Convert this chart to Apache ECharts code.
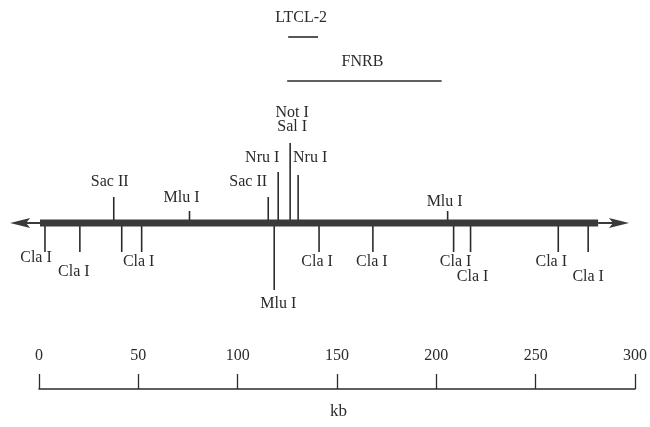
<!DOCTYPE html>
<html>
<head>
<meta charset="utf-8">
<script src="https://cdn.jsdelivr.net/npm/echarts@6/dist/echarts.min.js"></script>
<style>
  html, body { margin: 0; padding: 0; background: #fff; }
  #chart { width: 650px; height: 427px; }
</style>
</head>
<body>
<div id="chart"></div>
<script>
// ---- data (kb) ----
var mapSpan = [0.5, 280.5];
var arrowTips = [-14.5, 296];

var siteNames = ['Cla I', 'Cla I', 'Sac II', 'Cla I', 'Cla I', 'Mlu I', 'Sac II', 'Mlu I', 'Nru I',
  'Not I\nSal I', 'Nru I', 'Cla I', 'Cla I', 'Mlu I', 'Cla I', 'Cla I', 'Cla I', 'Cla I'];
var sitePos = [3, 20.5, 37.5, 41.5, 51.5, 75.5, 115, 118, 120, 126, 130, 140.5, 167.5, 205, 208, 216.5, 260.5, 275.5];

var cloneNames = ['LTCL-2', 'FNRB'];
var cloneStart = [125, 124.5];
var cloneEnd = [140, 202];

var scaleTicks = [0, 50, 100, 150, 200, 250, 300];

// ---- drawing ----
var ink = '#2b2b2b';
var font = '16px "Liberation Serif", "DejaVu Serif", serif';

// tick length (px, negative = above), label offset dx, dy, label shown
var siteLayout = [
  [29, -9, 35, 1], [29, -6, 49, 1], [-26, -4, -41, 1], [29, 0, 0, 0], [29, -3, 39, 1],
  [-12, -8, -25, 1], [-26, -20, -41, 1], [67, 4, 81, 1], [-51, -16, -65, 1],
  [-80, 2, -103, 1], [-48, 12, -65, 1], [29, -2, 39, 1], [29, -1, 39, 1],
  [-12, -3, -21, 1], [29, 2, 39, 1], [29, 2, 54, 1], [29, -7, 39, 1], [29, 0, 54, 1]
];
var cloneLayout = [-186, -142]; // bar offset from map line, px

var chart = echarts.init(document.getElementById('chart'), null, {renderer: 'canvas'});

var option = {
  backgroundColor: '#fff',
  animation: false,
  title: {
    text: 'kb',
    left: 325,
    top: 398,
    textStyle: {fontFamily: '"Liberation Serif", serif', fontSize: 17, fontWeight: 'normal', color: ink}
  },
  grid: [
    {left: 39, right: 13, top: 123, height: 200},
    {left: 39, right: 13, top: 388, height: 1}
  ],
  xAxis: [
    {gridIndex: 0, type: 'value', min: 0, max: 300, show: false},
    {
      gridIndex: 1, type: 'value', min: 0, max: 300, interval: 50, position: 'top',
      axisLine: {show: true, lineStyle: {color: ink, width: 1.5}},
      axisTick: {show: true, length: 15, lineStyle: {color: ink, width: 1.3}},
      axisLabel: {margin: 24, fontFamily: '"Liberation Serif", serif', fontSize: 16, color: ink,
        customValues: scaleTicks},
      splitLine: {show: false}
    }
  ],
  yAxis: [
    {gridIndex: 0, type: 'value', min: -1, max: 1, show: false},
    {gridIndex: 1, type: 'value', min: 0, max: 1, show: false}
  ],
  series: [
    {
      // restriction sites
      type: 'custom',
      xAxisIndex: 0, yAxisIndex: 0,
      data: sitePos.map(function (p, i) { return [p, i]; }),
      renderItem: function (params, api) {
        var i = api.value(1);
        var pt = api.coord([api.value(0), 0]);
        var lay = siteLayout[i];
        var children = [{
          type: 'line',
          shape: {x1: pt[0], y1: pt[1], x2: pt[0], y2: pt[1] + lay[0]},
          style: {stroke: ink, lineWidth: 1.6}
        }];
        if (lay[3]) {
          children.push({
            type: 'text',
            style: {
              text: siteNames[i], x: pt[0] + lay[1], y: pt[1] + lay[2],
              align: 'center', verticalAlign: 'middle', font: font, fill: ink, lineHeight: 14
            }
          });
        }
        return {type: 'group', children: children};
      }
    },
    {
      // chromosome line with arrows
      type: 'custom',
      xAxisIndex: 0, yAxisIndex: 0,
      data: [[mapSpan[0], mapSpan[1], arrowTips[0], arrowTips[1]]],
      renderItem: function (params, api) {
        var a = api.coord([api.value(0), 0]);
        var b = api.coord([api.value(1), 0]);
        var l = api.coord([api.value(2), 0]);
        var r = api.coord([api.value(3), 0]);
        var y = a[1];
        return {
          type: 'group',
          children: [
            {type: 'rect', shape: {x: a[0], y: y - 3.5, width: b[0] - a[0], height: 7}, style: {fill: '#3a3a3a'}},
            {type: 'line', shape: {x1: l[0] + 10, y1: y, x2: a[0], y2: y}, style: {stroke: '#3a3a3a', lineWidth: 2}},
            {type: 'line', shape: {x1: b[0], y1: y, x2: r[0] - 10, y2: y}, style: {stroke: '#3a3a3a', lineWidth: 2}},
            {type: 'polygon', shape: {points: [[l[0], y], [l[0] + 20, y - 5], [l[0] + 16, y], [l[0] + 20, y + 5]]},
              style: {fill: '#3a3a3a'}},
            {type: 'polygon', shape: {points: [[r[0], y], [r[0] - 20, y - 5], [r[0] - 16, y], [r[0] - 20, y + 5]]},
              style: {fill: '#3a3a3a'}}
          ]
        };
      }
    },
    {
      // cloned regions above the map
      type: 'custom',
      xAxisIndex: 0, yAxisIndex: 0,
      data: cloneNames.map(function (n, i) { return [cloneStart[i], cloneEnd[i], i]; }),
      renderItem: function (params, api) {
        var i = api.value(2);
        var s = api.coord([api.value(0), 0]);
        var e = api.coord([api.value(1), 0]);
        var y = s[1] + cloneLayout[i];
        return {
          type: 'group',
          children: [
            {type: 'line', shape: {x1: s[0], y1: y, x2: e[0], y2: y}, style: {stroke: ink, lineWidth: 1.6}},
            {type: 'text', style: {text: cloneNames[i], x: (s[0] + e[0]) / 2 - 2, y: y - 19,
              align: 'center', verticalAlign: 'middle', font: font, fill: ink}}
          ]
        };
      }
    }
  ]
};

option && chart.setOption(option);
</script>
</body>
</html>
